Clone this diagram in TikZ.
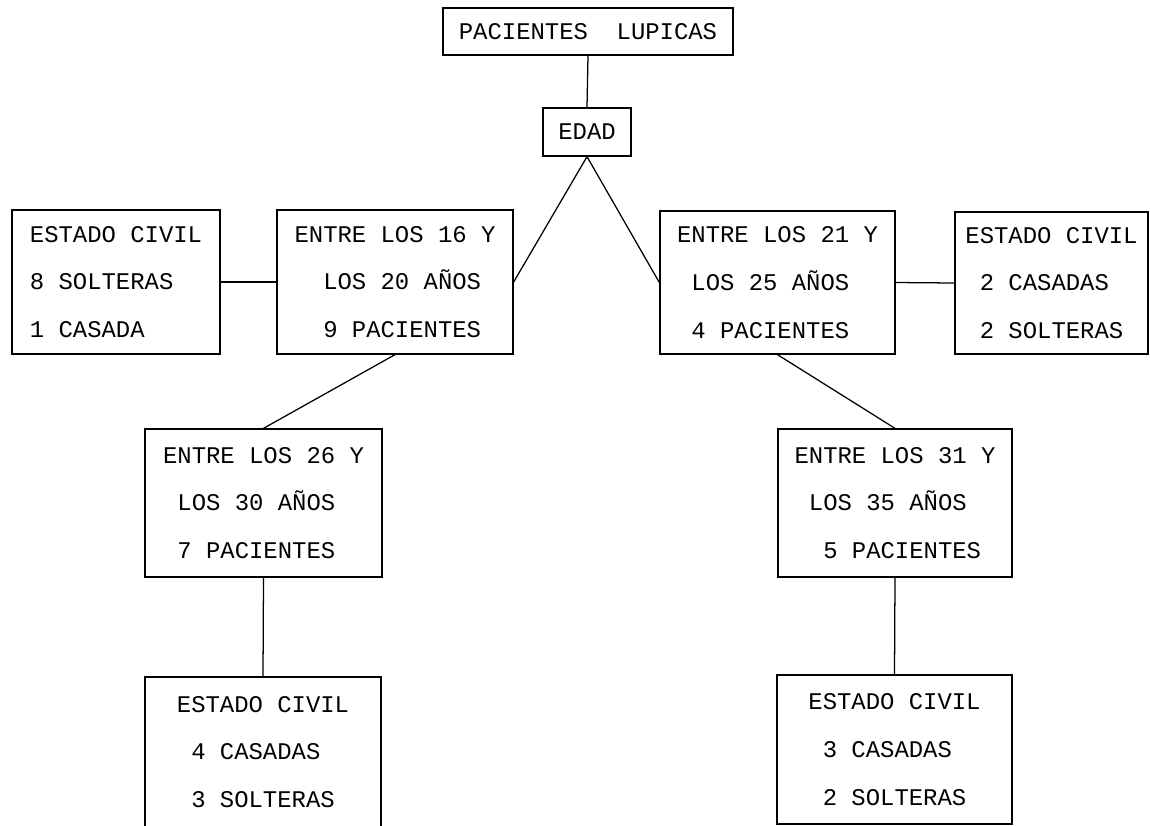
\documentclass[tikz,border=0pt]{standalone}
\usepackage{fontspec}
\setmonofont{Liberation Mono}
\begin{document}
\begin{tikzpicture}[x=0.025cm,y=-0.025cm,line width=0.9pt,
	caja/.style={draw,inner sep=0pt,align=left,font=\ttfamily\fontsize{17}{34}\selectfont}]
		\useasboundingbox (0,0) rectangle (1150,825);
		\node[caja,minimum width=7.25cm,minimum height=1.175cm] (lupicas) at (588,31.5) {PACIENTES\phantom{00}LUPICAS};
		\node[caja,minimum width=2.2cm,minimum height=1.2cm] (edad) at (587,132) {EDAD};
		\node[caja,minimum width=5.2cm,minimum height=3.6cm] (civil1) at (116,282) {ESTADO CIVIL\\8 SOLTERAS\\1 CASADA};
		\node[caja,minimum width=5.9cm,minimum height=3.6cm] (e16) at (395,282) {ENTRE LOS 16 Y\\\phantom{00}LOS 20 AÑOS\\\phantom{00}9 PACIENTES};
		\node[caja,minimum width=5.875cm,minimum height=3.575cm] (e21) at (777.5,282.5) {ENTRE LOS 21 Y\\\phantom{0}LOS 25 AÑOS\\\phantom{0}4 PACIENTES};
		\node[caja,minimum width=4.825cm,minimum height=3.55cm] (civil2) at (1051.5,283) {ESTADO CIVIL\\\phantom{0}2 CASADAS\\\phantom{0}2 SOLTERAS};
		\node[caja,minimum width=5.925cm,minimum height=3.7cm] (e26) at (263.5,503) {ENTRE LOS 26 Y\\\phantom{0}LOS 30 AÑOS\\\phantom{0}7 PACIENTES};
		\node[caja,minimum width=5.85cm,minimum height=3.7cm] (e31) at (895,503) {ENTRE LOS 31 Y\\\phantom{0}LOS 35 AÑOS\\\phantom{00}5 PACIENTES};
		\node[caja,minimum width=5.9cm,minimum height=3.75cm] (civil3) at (263,752) {ESTADO CIVIL\\\phantom{0}4 CASADAS\\\phantom{0}3 SOLTERAS};
		\node[caja,minimum width=5.875cm,minimum height=3.725cm] (civil4) at (894.5,749.5) {ESTADO CIVIL\\\phantom{0}3 CASADAS\\\phantom{0}2 SOLTERAS};
		\draw (lupicas.south)--(edad.north);
		\draw (e16.east)--(edad.south)--(e21.west);
		\draw (civil1.east)--(e16.west);
		\draw (e21.east)--(civil2.west);
		\draw (e16.south)--(e26.north);
		\draw (e21.south)--(e31.north);
		\draw (e26.south)--(civil3.north);
		\draw (e31.south)--(civil4.north);
	\end{tikzpicture}
\end{document}
